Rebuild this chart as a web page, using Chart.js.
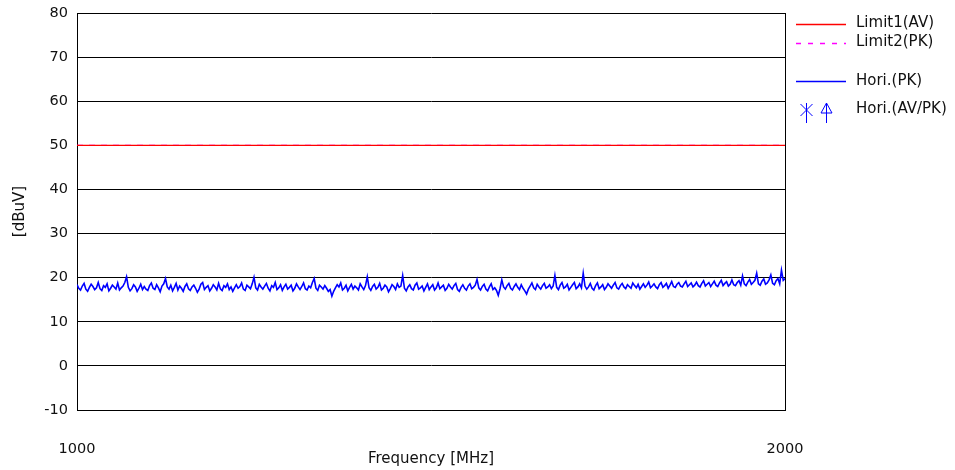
<!DOCTYPE html>
<html>
<head>
<meta charset="utf-8">
<script src="https://cdn.jsdelivr.net/npm/chart.js@4.4.1/dist/chart.umd.min.js"></script>
<style>
html,body{margin:0;padding:0;background:#fff;}
#wrap{width:955px;height:470px;position:relative;}
</style>
</head>
<body>
<div id="wrap"><canvas id="c" width="955" height="470"></canvas></div>
<script>
// ---- data ----
const xTickLabels = [1000, 2000];
const yTicks = [-10, 0, 10, 20, 30, 40, 50, 60, 70, 80];
const limit1AV = [50, 50];          // at 1000 and 2000 MHz
const limit2PK = [50, 50];
const horiFreq = [
1000,1002.5,1005,1007.5,1010,1012.5,1015,1017.5,1020,1022.5,1025,1027.5,1030,1032.5,1035,1037.5,1040,1042.5,1045,1047.5,
1050,1052.5,1055,1057.5,1060,1062.5,1065,1067.5,1070,1072.5,1075,1077.5,1080,1082.5,1085,1087.5,1090,1092.5,1095,1097.5,
1100,1102.5,1105,1107.5,1110,1112.5,1115,1117.5,1120,1122.5,1125,1127.5,1130,1132.5,1135,1137.5,1140,1142.5,1145,1147.5,
1150,1152.5,1155,1157.5,1160,1162.5,1165,1167.5,1170,1172.5,1175,1177.5,1180,1182.5,1185,1187.5,1190,1192.5,1195,1197.5,
1200,1202.5,1205,1207.5,1210,1212.5,1215,1217.5,1220,1222.5,1225,1227.5,1230,1232.5,1235,1237.5,1240,1242.5,1245,1247.5,
1250,1252.5,1255,1257.5,1260,1262.5,1265,1267.5,1270,1272.5,1275,1277.5,1280,1282.5,1285,1287.5,1290,1292.5,1295,1297.5,
1300,1302.5,1305,1307.5,1310,1312.5,1315,1317.5,1320,1322.5,1325,1327.5,1330,1332.5,1335,1337.5,1340,1342.5,1345,1347.5,
1350,1352.5,1355,1357.5,1360,1362.5,1365,1367.5,1370,1372.5,1375,1377.5,1380,1382.5,1385,1387.5,1390,1392.5,1395,1397.5,
1400,1402.5,1405,1407.5,1410,1412.5,1415,1417.5,1420,1422.5,1425,1427.5,1430,1432.5,1435,1437.5,1440,1442.5,1445,1447.5,
1450,1452.5,1455,1457.5,1460,1462.5,1465,1467.5,1470,1472.5,1475,1477.5,1480,1482.5,1485,1487.5,1490,1492.5,1495,1497.5,
1500,1502.5,1505,1507.5,1510,1512.5,1515,1517.5,1520,1522.5,1525,1527.5,1530,1532.5,1535,1537.5,1540,1542.5,1545,1547.5,
1550,1552.5,1555,1557.5,1560,1562.5,1565,1567.5,1570,1572.5,1575,1577.5,1580,1582.5,1585,1587.5,1590,1592.5,1595,1597.5,
1600,1602.5,1605,1607.5,1610,1612.5,1615,1617.5,1620,1622.5,1625,1627.5,1630,1632.5,1635,1637.5,1640,1642.5,1645,1647.5,
1650,1652.5,1655,1657.5,1660,1662.5,1665,1667.5,1670,1672.5,1675,1677.5,1680,1682.5,1685,1687.5,1690,1692.5,1695,1697.5,
1700,1702.5,1705,1707.5,1710,1712.5,1715,1717.5,1720,1722.5,1725,1727.5,1730,1732.5,1735,1737.5,1740,1742.5,1745,1747.5,
1750,1752.5,1755,1757.5,1760,1762.5,1765,1767.5,1770,1772.5,1775,1777.5,1780,1782.5,1785,1787.5,1790,1792.5,1795,1797.5,
1800,1802.5,1805,1807.5,1810,1812.5,1815,1817.5,1820,1822.5,1825,1827.5,1830,1832.5,1835,1837.5,1840,1842.5,1845,1847.5,
1850,1852.5,1855,1857.5,1860,1862.5,1865,1867.5,1870,1872.5,1875,1877.5,1880,1882.5,1885,1887.5,1890,1892.5,1895,1897.5,
1900,1902.5,1905,1907.5,1910,1912.5,1915,1917.5,1920,1922.5,1925,1927.5,1930,1932.5,1935,1937.5,1940,1942.5,1945,1947.5,
1950,1952.5,1955,1957.5,1960,1962.5,1965,1967.5,1970,1972.5,1975,1977.5,1980,1982.5,1985,1987.5,1990,1992.5,1995,1997.5,
2000];
const horiPK = [
18.4,17.6,17.2,18.1,18.7,17.4,16.9,17.8,18.5,18.0,17.3,17.7,18.9,17.5,17.1,18.2,17.8,18.6,17.0,17.6,
18.3,17.9,17.4,18.8,17.2,17.7,18.1,18.9,20.2,17.8,17.0,17.5,18.4,17.9,16.9,17.6,18.5,17.3,18.0,17.4,
17.1,18.2,18.8,17.6,17.3,18.4,17.7,16.8,18.1,18.6,19.8,17.9,17.4,18.3,17.0,17.8,18.7,17.2,18.1,17.6,
16.9,18.0,18.6,17.5,17.1,17.9,18.3,17.6,16.7,17.4,18.5,18.9,17.3,17.8,18.2,17.0,17.6,18.4,17.9,17.2,
18.7,17.5,17.1,18.2,17.8,18.6,17.3,17.9,16.9,17.7,18.4,17.6,18.0,18.8,17.4,17.1,18.3,17.9,17.5,18.6,
20.1,17.7,17.2,18.5,17.9,17.4,18.1,18.7,17.6,17.0,18.2,17.8,18.9,17.3,17.7,18.4,17.1,17.9,18.5,17.4,
17.8,18.3,17.0,17.6,18.6,17.9,17.3,18.0,18.8,17.5,17.2,18.1,17.7,18.9,19.8,17.6,17.1,18.3,17.9,17.4,
18.2,17.6,16.9,17.3,15.8,16.9,17.7,18.4,17.9,18.8,17.2,17.6,18.3,17.0,17.8,18.5,17.4,18.1,17.7,17.2,
18.6,17.9,17.3,18.2,20.2,17.7,17.1,18.0,18.5,17.4,17.8,18.7,17.2,17.6,18.3,17.9,16.8,17.5,18.4,18.0,
17.3,18.6,17.8,18.1,20.5,17.6,17.0,17.9,18.4,17.5,17.2,18.3,18.8,17.4,17.7,18.1,17.0,17.8,18.6,17.3,
17.9,18.4,17.2,17.7,18.8,17.5,17.9,18.3,17.1,17.6,18.5,17.9,17.4,18.2,18.7,17.3,16.9,17.8,18.4,17.6,
17.2,18.1,18.6,17.5,17.8,18.3,19.6,17.7,17.2,18.0,18.5,17.4,17.0,17.9,18.6,17.3,17.7,17.1,16.0,17.5,
19.5,17.9,17.4,18.2,18.7,17.6,17.2,18.0,18.6,17.8,17.3,18.4,17.6,17.0,16.3,17.4,18.1,18.8,17.7,17.3,
18.5,17.9,17.4,18.2,18.7,17.6,17.9,18.4,17.5,18.1,20.5,17.8,17.3,18.3,18.9,17.6,17.9,18.5,17.2,17.8,
18.4,18.9,17.5,17.9,18.6,17.7,21.0,18.1,17.4,17.9,18.7,17.6,17.2,18.2,18.8,17.5,17.9,18.4,17.3,17.8,
18.6,18.1,17.6,18.3,18.9,17.7,17.4,18.2,18.7,17.9,17.5,18.4,18.0,17.6,18.8,18.2,17.7,18.5,17.4,18.0,
18.6,17.8,18.3,19.0,17.7,18.1,18.6,17.9,17.5,18.4,18.9,17.8,18.2,18.7,17.6,18.3,19.1,18.0,17.8,18.5,
18.9,18.1,17.9,18.6,19.2,18.0,18.4,18.8,17.9,18.3,19.0,18.2,17.9,18.7,19.3,18.1,18.5,18.9,18.0,18.6,
19.2,18.3,18.0,18.8,19.4,18.2,18.7,19.1,18.1,18.5,19.5,18.4,18.2,18.9,19.3,18.3,20.4,18.6,18.2,19.0,
19.6,18.5,18.9,19.4,21.0,18.6,18.3,19.2,19.7,18.5,18.8,19.5,20.6,18.7,18.4,19.3,19.8,18.6,21.7,19.4,
19.8];
const legendLabels = ['Limit1(AV)', 'Limit2(PK)', 'Hori.(PK)', 'Hori.(AV/PK)'];

// ---- styles ----
const FONT = '"DejaVu Sans", Verdana, sans-serif';
const TXT = '#111';
const RED = '#ff0000', MAGENTA = '#ff00ff', BLUE = '#0000ff';

const legendPlugin = {
  id: 'customLegend',
  afterDraw(chart) {
    const ctx = chart.ctx;
    ctx.save();
    ctx.font = '15px ' + FONT;
    ctx.fillStyle = TXT;
    ctx.textBaseline = 'middle';
    ctx.textAlign = 'left';
    const tx = 856;
    ctx.lineWidth = 1.3;
    // Limit1
    ctx.strokeStyle = RED; ctx.setLineDash([]);
    ctx.beginPath(); ctx.moveTo(796, 24.5); ctx.lineTo(846, 24.5); ctx.stroke();
    ctx.fillText(legendLabels[0], tx, 23);
    // Limit2
    ctx.strokeStyle = MAGENTA; ctx.setLineDash([5, 7]);
    ctx.beginPath(); ctx.moveTo(796, 43.5); ctx.lineTo(846, 43.5); ctx.stroke();
    ctx.setLineDash([]);
    ctx.fillText(legendLabels[1], tx, 42);
    // Hori PK
    ctx.strokeStyle = BLUE;
    ctx.beginPath(); ctx.moveTo(796, 81.5); ctx.lineTo(846, 81.5); ctx.stroke();
    ctx.fillText(legendLabels[2], tx, 81);
    // markers
    ctx.lineWidth = 1;
    ctx.beginPath();
    ctx.moveTo(800.5, 104); ctx.lineTo(812.5, 116);
    ctx.moveTo(812.5, 104); ctx.lineTo(800.5, 116);
    ctx.moveTo(806.5, 103); ctx.lineTo(806.5, 123);
    ctx.stroke();
    ctx.beginPath();
    ctx.moveTo(826.5, 103); ctx.lineTo(821, 113); ctx.lineTo(832, 113); ctx.closePath();
    ctx.moveTo(826.5, 103); ctx.lineTo(826.5, 123);
    ctx.stroke();
    ctx.fillText(legendLabels[3], tx, 109);
    ctx.restore();
  }
};

new Chart(document.getElementById('c'), {
  type: 'line',
  data: {
    datasets: [
      {
        label: legendLabels[2],
        data: horiFreq.map((f, i) => ({x: f, y: horiPK[i]})),
        borderColor: BLUE, borderWidth: 1.6, pointRadius: 0, tension: 0, fill: false
      },
      {
        label: legendLabels[0],
        data: xTickLabels.map((f, i) => ({x: f, y: limit1AV[i]})),
        borderColor: RED, borderWidth: 1.2, pointRadius: 0, fill: false
      },
      {
        label: legendLabels[1],
        data: xTickLabels.map((f, i) => ({x: f, y: limit2PK[i]})),
        borderColor: MAGENTA, borderWidth: 1.2, borderDash: [6, 6], pointRadius: 0, fill: false
      }
    ]
  },
  options: {
    responsive: false,
    animation: false,
    devicePixelRatio: 1,
    layout: { padding: { top: 13, right: 170, bottom: 0, left: 0 } },
    plugins: { legend: { display: false }, tooltip: { enabled: false } },
    scales: {
      x: {
        type: 'linear',
        min: 1000, max: 2000,
        afterBuildTicks: (s) => { s.ticks = xTickLabels.map(v => ({value: v})); },
        afterFit: (s) => { s.height = 60; },
        ticks: { color: TXT, font: { family: FONT, size: 14.5 }, padding: 31, maxRotation: 0, autoSkip: false,
                 callback: (v) => String(v) },
        grid: { color: '#000', lineWidth: 1, drawTicks: false },
        border: { color: '#000', width: 1 },
        title: { display: true, text: 'Frequency [MHz]', color: TXT, font: { family: FONT, size: 15 }, padding: { top: 0, bottom: 2.2 } }
      },
      y: {
        min: -10, max: 80,
        afterBuildTicks: (s) => { s.ticks = yTicks.map(v => ({value: v})); },
        afterFit: (s) => { s.width = 77; },
        ticks: { color: TXT, font: { family: FONT, size: 14.5, lineHeight: 0.5 }, padding: 9, callback: (v) => String(v) },
        grid: { color: '#000', lineWidth: 1, drawTicks: false },
        border: { color: '#000', width: 1 },
        title: { display: true, text: '[dBuV]', color: TXT, font: { family: FONT, size: 15 }, padding: { top: 11, bottom: 0 } }
      }
    }
  },
  plugins: [legendPlugin]
});
</script>
</body>
</html>
